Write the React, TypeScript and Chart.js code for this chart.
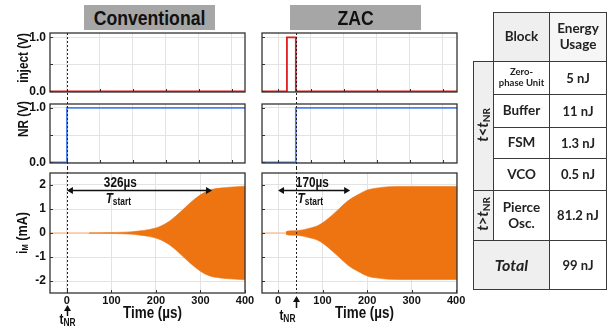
import React, { useEffect, useRef } from "react";
import { Chart, registerables } from "chart.js";

Chart.register(...registerables);

// ---------------- data ----------------
const convInjectT = [-38, 400];
const convInjectV = [0, 0];
const zacInjectT = [-36, 20, 20, 40, 40, 402];
const zacInjectV = [0, 0, 1, 1, 0, 0];

const convNrT = [-38, 0, 0, 400];
const convNrV = [0, 0, 1, 1];
const zacNrT = [-36, 40, 40, 402];
const zacNrV = [0, 0, 1, 1];

const convEnvT = [50, 100, 125, 141, 160, 186, 209, 231, 254, 276, 299, 321, 344, 366, 400];
const convEnvA = [0.01, 0.02, 0.03, 0.045, 0.08, 0.15, 0.27, 0.5, 0.86, 1.24, 1.58, 1.79, 1.87, 1.91, 1.95];
const convLeadT = [-38, 50];

const zacEnvT = [18, 22, 37, 55, 67, 90, 112, 135, 157, 180, 202, 225, 250, 300, 402];
const zacEnvA = [0.05, 0.08, 0.09, 0.13, 0.18, 0.31, 0.59, 0.97, 1.34, 1.6, 1.8, 1.88, 1.93, 1.94, 1.94];
const zacLeadT = [-36, 18];

const tNrConv = 0;
const tNrZac = 40;

const tStartConv = [0, 326];
const tStartConvLabel = "326µs";
const tStartConvLabelT = 120;
const tStartZac = [0, 162];
const tStartZacLabel = "170µs";
const tStartZacLabelT = 77;
const tStartLevel = 1.8;

const topGridT = [0, 74, 148, 222, 296, 370];
const timeTicks = [0, 100, 200, 300, 400];
const timeLabels = ["0", "100", "200", "300", "400"];
const voltTicks = [0, 0.5, 1];
const voltLabels = ["0.0", "", "1.0"];
const currentTicks = [-2, -1, 0, 1, 2];
const currentLabels = ["-2", "-1", "0", "1", "2"];

const blockNames = [["Zero-", "phase Unit"], ["Buffer"], ["FSM"], ["VCO"], ["Pierce", "Osc."]];
const blockEnergy = ["5 nJ", "11 nJ", "1.3 nJ", "0.5 nJ", "81.2 nJ"];
const totalEnergy = "99 nJ";

// ---------------- styles ----------------
const FONT = "'Liberation Sans', Arial, sans-serif";
const CONDENSE = 0.84;
const GRID = "#e3e3e3";
const FRAME = "#333333";
const ORANGE = "#ee7412";
const PEACH = "#f7c6a0";
const RED = "#e01c1c";
const BLUE = "#4d80ee";

type Piece = { t: string; s: number; dy?: number; italic?: boolean };

const pts = (t: number[], v: number[]) => t.map((x, i) => ({ x, y: v[i] }));

function drawRich(ctx: CanvasRenderingContext2D, pieces: Piece[], x: number, y: number, align: "center" | "right" | "left", rotate = false) {
  ctx.save();
  ctx.translate(x, y);
  if (rotate) ctx.rotate(-Math.PI / 2);
  ctx.scale(CONDENSE, 1);
  ctx.textBaseline = "middle";
  ctx.textAlign = "left";
  ctx.fillStyle = "#111";
  const fontOf = (p: Piece) => `${p.italic ? "italic " : ""}bold ${p.s}px ${FONT}`;
  let w = 0;
  for (const p of pieces) {
    ctx.font = fontOf(p);
    w += ctx.measureText(p.t).width;
  }
  let cx = align === "center" ? -w / 2 : align === "right" ? -w : 0;
  for (const p of pieces) {
    ctx.font = fontOf(p);
    ctx.fillText(p.t, cx, p.dy || 0);
    cx += ctx.measureText(p.t).width;
  }
  ctx.restore();
}

type Deco = {
  vline: number;
  vTop: "area" | "canvas";
  vBottom: "area" | "canvas";
  xMarks: number[];
  yMarks: number[];
  yTitle?: { pieces: Piece[]; x: number; y: number };
  xTitle?: { text: string; dx: number; y: number };
  tstart?: { from: number; to: number; level: number; label: string; labelT: number };
  tnr?: { t: number; top: number; bottom: number; labelY: number; align: "center" | "right"; dx: number };
};

function decoPlugin(d: Deco) {
  return {
    id: "deco",
    afterDatasetsDraw(chart: any) {
      const { ctx, chartArea: a, scales } = chart;
      const xs = scales.x;
      const ys = scales.y;
      ctx.save();
      ctx.strokeStyle = FRAME;
      ctx.lineWidth = 1;
      ctx.beginPath();
      for (const t of d.xMarks) {
        const px = Math.round(xs.getPixelForValue(t)) + 0.5;
        ctx.moveTo(px, a.bottom);
        ctx.lineTo(px, a.bottom - 3);
      }
      for (const v of d.yMarks) {
        const py = Math.round(ys.getPixelForValue(v)) + 0.5;
        ctx.moveTo(a.left, py);
        ctx.lineTo(a.left + 3, py);
      }
      ctx.stroke();
      ctx.lineWidth = 1.3;
      ctx.strokeRect(a.left, a.top, a.right - a.left, a.bottom - a.top);

      // vertical dashed t_NR line
      const vx = Math.round(xs.getPixelForValue(d.vline)) + 0.5;
      ctx.strokeStyle = "#222";
      ctx.lineWidth = 1;
      ctx.setLineDash([2, 2]);
      ctx.beginPath();
      ctx.moveTo(vx, d.vTop === "canvas" ? 0 : a.top);
      ctx.lineTo(vx, d.vBottom === "canvas" ? chart.height : a.bottom);
      ctx.stroke();
      ctx.setLineDash([]);

      if (d.yTitle) drawRich(ctx, d.yTitle.pieces, d.yTitle.x, d.yTitle.y, "center", true);
      if (d.xTitle) drawRich(ctx, [{ t: d.xTitle.text, s: 16 }], (a.left + a.right) / 2 + d.xTitle.dx, d.xTitle.y, "center");

      if (d.tstart) {
        const s = d.tstart;
        const x1 = xs.getPixelForValue(s.from);
        const x2 = xs.getPixelForValue(s.to);
        const y = Math.round(ys.getPixelForValue(s.level)) + 0.5;
        ctx.strokeStyle = "#111";
        ctx.fillStyle = "#111";
        ctx.lineWidth = 1.5;
        ctx.beginPath();
        ctx.moveTo(x1 + 4, y);
        ctx.lineTo(x2 - 4, y);
        ctx.stroke();
        ctx.beginPath();
        ctx.moveTo(x1, y);
        ctx.lineTo(x1 + 6, y - 3.5);
        ctx.lineTo(x1 + 6, y + 3.5);
        ctx.closePath();
        ctx.moveTo(x2, y);
        ctx.lineTo(x2 - 6, y - 3.5);
        ctx.lineTo(x2 - 6, y + 3.5);
        ctx.closePath();
        ctx.fill();
        const lx = xs.getPixelForValue(s.labelT);
        drawRich(ctx, [{ t: s.label, s: 14 }], lx, y - 7, "center");
        drawRich(ctx, [{ t: "T", s: 14, italic: true }, { t: "start", s: 10, dy: 3 }], lx - 2, y + 9, "center");
      }

      if (d.tnr) {
        const n = d.tnr;
        const ax = Math.round(xs.getPixelForValue(n.t)) + 0.5;
        ctx.strokeStyle = "#111";
        ctx.fillStyle = "#111";
        ctx.lineWidth = 1.5;
        ctx.beginPath();
        ctx.moveTo(ax, n.top + 4);
        ctx.lineTo(ax, n.bottom);
        ctx.stroke();
        ctx.beginPath();
        ctx.moveTo(ax, n.top);
        ctx.lineTo(ax - 3.5, n.top + 6);
        ctx.lineTo(ax + 3.5, n.top + 6);
        ctx.closePath();
        ctx.fill();
        drawRich(ctx, [{ t: "t", s: 14 }, { t: "NR", s: 10, dy: 3 }], ax + n.dx, n.labelY, n.align);
      }
      ctx.restore();
    },
  };
}

type PanelSpec = {
  datasets: any[];
  xMin: number;
  xMax: number;
  yMin: number;
  yMax: number;
  xTicks: number[];
  xLabels?: string[];
  yTicks: number[];
  yLabels?: string[];
  yWidth: number;
  xHeight: number;
  padding: { top: number; bottom: number; left: number; right: number };
  deco: Deco;
};

function buildConfig(p: PanelSpec): any {
  return {
    type: "line",
    data: { datasets: p.datasets },
    options: {
      responsive: false,
      maintainAspectRatio: false,
      animation: false,
      layout: { padding: p.padding },
      plugins: { legend: { display: false }, tooltip: { enabled: false } },
      elements: { point: { radius: 0 }, line: { borderJoinStyle: "miter" } },
      scales: {
        x: {
          type: "linear",
          min: p.xMin,
          max: p.xMax,
          afterBuildTicks: (s: any) => {
            s.ticks = p.xTicks.map((v) => ({ value: v }));
          },
          afterFit: (s: any) => {
            s.height = p.xHeight;
            s.paddingLeft = 0;
            s.paddingRight = 0;
          },
          grid: { color: GRID, lineWidth: 1, drawTicks: false },
          border: { display: false },
          ticks: {
            display: !!p.xLabels,
            autoSkip: false,
            maxRotation: 0,
            padding: 1,
            color: "#111",
            font: { family: FONT, size: 11, weight: "bold" },
            callback: (_v: any, i: number) => (p.xLabels ? p.xLabels[i] : ""),
          },
        },
        y: {
          type: "linear",
          min: p.yMin,
          max: p.yMax,
          afterBuildTicks: (s: any) => {
            s.ticks = p.yTicks.map((v) => ({ value: v }));
          },
          afterFit: (s: any) => {
            s.width = p.yWidth;
            s.paddingTop = 0;
            s.paddingBottom = 0;
          },
          grid: { color: GRID, lineWidth: 1, drawTicks: false },
          border: { display: false },
          ticks: {
            display: !!p.yLabels,
            autoSkip: false,
            padding: 4,
            color: "#111",
            font: { family: FONT, size: 12, weight: "bold" },
            callback: (_v: any, i: number) => (p.yLabels ? p.yLabels[i] : ""),
          },
        },
      },
    },
    plugins: [decoPlugin(p.deco)],
  };
}

function ChartBox({ spec, left, top, width, height }: { spec: PanelSpec; left: number; top: number; width: number; height: number }) {
  const ref = useRef<HTMLCanvasElement>(null);
  useEffect(() => {
    const chart = new Chart(ref.current as HTMLCanvasElement, buildConfig(spec));
    return () => chart.destroy();
  }, []);
  return (
    <canvas
      ref={ref}
      width={width}
      height={height}
      style={{ position: "absolute", left, top, width, height }}
    />
  );
}

const lineDs = (t: number[], v: number[], color: string) => ({
  data: pts(t, v),
  borderColor: color,
  borderWidth: 1.8,
  pointRadius: 0,
  tension: 0,
  fill: false,
});

const envelope = (t: number[], a: number[], leadT: number[]) => [
  {
    data: pts(t, a),
    borderColor: ORANGE,
    backgroundColor: ORANGE,
    borderWidth: 0.6,
    pointRadius: 0,
    cubicInterpolationMode: "monotone",
    fill: "+1",
  },
  {
    data: pts(t, a.map((v) => -v)),
    borderColor: ORANGE,
    borderWidth: 0.6,
    pointRadius: 0,
    cubicInterpolationMode: "monotone",
    fill: false,
  },
  {
    data: pts(leadT, leadT.map(() => 0)),
    borderColor: PEACH,
    borderWidth: 1.5,
    pointRadius: 0,
    fill: false,
  },
];

const LEFT = { left: 0, width: 260, yWidth: 50, right: 15, xMin: -38, xMax: 400 };
const RIGHT = { left: 250, width: 222, yWidth: 12, right: 15, xMin: -36, xMax: 402 };

const voltTitle: Piece[] = [{ t: "inject (V)", s: 14 }];
const nrTitle: Piece[] = [{ t: "NR (V)", s: 14 }];
const imTitle: Piece[] = [{ t: "i", s: 15 }, { t: "M", s: 9, dy: 3 }, { t: " (mA)", s: 15 }];

function specs(col: typeof LEFT, isConv: boolean) {
  const tnr = isConv ? tNrConv : tNrZac;
  const a: PanelSpec = {
    datasets: [isConv ? lineDs(convInjectT, convInjectV, RED) : lineDs(zacInjectT, zacInjectV, RED)],
    xMin: col.xMin,
    xMax: col.xMax,
    yMin: -0.01,
    yMax: 1.08,
    xTicks: topGridT,
    yTicks: voltTicks,
    yLabels: isConv ? voltLabels : undefined,
    yWidth: col.yWidth,
    xHeight: 0,
    padding: { top: 33, bottom: 6, left: 0, right: col.right },
    deco: {
      vline: tnr,
      vTop: "area",
      vBottom: "canvas",
      xMarks: topGridT,
      yMarks: voltTicks,
      yTitle: isConv ? { pieces: voltTitle, x: 24, y: 58 } : undefined,
    },
  };
  const b: PanelSpec = {
    datasets: [isConv ? lineDs(convNrT, convNrV, BLUE) : lineDs(zacNrT, zacNrV, BLUE)],
    xMin: col.xMin,
    xMax: col.xMax,
    yMin: -0.01,
    yMax: 1.07,
    xTicks: topGridT,
    yTicks: voltTicks,
    yLabels: isConv ? voltLabels : undefined,
    yWidth: col.yWidth,
    xHeight: 0,
    padding: { top: 6, bottom: 5, left: 0, right: col.right },
    deco: {
      vline: tnr,
      vTop: "canvas",
      vBottom: "canvas",
      xMarks: topGridT,
      yMarks: voltTicks,
      yTitle: isConv ? { pieces: nrTitle, x: 24, y: 21 } : undefined,
    },
  };
  const c: PanelSpec = {
    datasets: isConv ? envelope(convEnvT, convEnvA, convLeadT) : envelope(zacEnvT, zacEnvA, zacLeadT),
    xMin: col.xMin,
    xMax: col.xMax,
    yMin: -2.5,
    yMax: 2.5,
    xTicks: timeTicks,
    xLabels: timeLabels,
    yTicks: currentTicks,
    yLabels: isConv ? currentLabels : undefined,
    yWidth: col.yWidth,
    xHeight: 34,
    padding: { top: 5, bottom: 0, left: 0, right: col.right },
    deco: {
      vline: tnr,
      vTop: "canvas",
      vBottom: "area",
      xMarks: timeTicks,
      yMarks: currentTicks,
      yTitle: isConv ? { pieces: imTitle, x: 23, y: 65 } : undefined,
      xTitle: { text: "Time (µs)", dx: 5, y: 146 },
      tstart: isConv
        ? { from: tStartConv[0], to: tStartConv[1], level: tStartLevel, label: tStartConvLabel, labelT: tStartConvLabelT }
        : { from: tStartZac[0], to: tStartZac[1], level: tStartLevel, label: tStartZacLabel, labelT: tStartZacLabelT },
      tnr: isConv
        ? { t: tnr, top: 137, bottom: 148, labelY: 152, align: "center", dx: 0 }
        : { t: tnr, top: 128, bottom: 140, labelY: 148, align: "right", dx: -1 },
    },
  };
  return [a, b, c];
}

const cell: React.CSSProperties = {
  border: "1.5px solid #3a3a3a",
  textAlign: "center",
  verticalAlign: "middle",
  padding: 0,
  lineHeight: 1.15,
};
const gray = "#efefef";

function EnergyTable() {
  const rowH = [33, 33, 31, 32];
  return (
    <table
      style={{
        position: "absolute",
        left: 473,
        top: 12,
        width: 133,
        borderCollapse: "collapse",
        tableLayout: "fixed",
        fontFamily: "Lato, 'Open Sans', sans-serif",
        fontWeight: 700,
        color: "#222",
        fontSize: 13,
      }}
    >
      <colgroup>
        <col style={{ width: 20 }} />
        <col style={{ width: 56 }} />
        <col style={{ width: 57 }} />
      </colgroup>
      <tbody>
        <tr style={{ height: 49 }}>
          <td style={{ border: "none", padding: 0 }} />
          <td style={{ ...cell, background: gray, fontSize: 13.5 }}>Block</td>
          <td style={{ ...cell, background: "#f6f6f6", fontSize: 13.5 }}>
            Energy
            <br />
            Usage
          </td>
        </tr>
        {blockNames.slice(0, 4).map((name, i) => (
          <tr key={i} style={{ height: rowH[i] }}>
            {i === 0 && (
              <td rowSpan={4} style={{ ...cell, background: gray }}>
                <span
                  style={{
                    display: "inline-block",
                    writingMode: "vertical-rl",
                    transform: "rotate(180deg)",
                    fontSize: 15,
                    whiteSpace: "nowrap",
                  }}
                >
                  <i>t</i>&lt;<i>t</i>
                  <sub style={{ fontSize: 10 }}>NR</sub>
                </span>
              </td>
            )}
            <td style={{ ...cell, fontSize: name.length > 1 ? 9.5 : 13.5 }}>
              {name.map((n, k) => (
                <div key={k}>{n}</div>
              ))}
            </td>
            <td style={cell}>{blockEnergy[i]}</td>
          </tr>
        ))}
        <tr style={{ height: 50 }}>
          <td style={{ ...cell, background: gray }}>
            <span
              style={{
                display: "inline-block",
                writingMode: "vertical-rl",
                transform: "rotate(180deg)",
                fontSize: 15,
                whiteSpace: "nowrap",
              }}
            >
              <i>t</i>&gt;<i>t</i>
              <sub style={{ fontSize: 10 }}>NR</sub>
            </span>
          </td>
          <td style={{ ...cell, fontSize: 13.5 }}>
            {blockNames[4].map((n, k) => (
              <div key={k}>{n}</div>
            ))}
          </td>
          <td style={cell}>{blockEnergy[4]}</td>
        </tr>
        <tr style={{ height: 49 }}>
          <td colSpan={2} style={{ ...cell, background: gray, fontSize: 16, fontStyle: "italic" }}>
            Total
          </td>
          <td style={cell}>{totalEnergy}</td>
        </tr>
      </tbody>
    </table>
  );
}

function TitleBox({ text, left, width }: { text: string; left: number; width: number }) {
  return (
    <div
      style={{
        position: "absolute",
        left,
        top: 5,
        width,
        height: 25,
        background: "#a6a6a6",
        display: "flex",
        alignItems: "center",
        justifyContent: "center",
        fontFamily: FONT,
        fontWeight: 700,
        fontSize: 21,
        color: "#111",
      }}
    >
      <span style={{ display: "inline-block", transform: `scaleX(${CONDENSE})`, whiteSpace: "nowrap" }}>{text}</span>
    </div>
  );
}

export default function App() {
  const conv = specs(LEFT, true);
  const zac = specs(RIGHT, false);
  const rows = [
    { top: 0, height: 98 },
    { top: 98, height: 70 },
    { top: 168, height: 159 },
  ];
  return (
    <div
      style={{
        position: "fixed",
        left: 0,
        top: 0,
        width: 611,
        height: 327,
        background: "#fff",
        overflow: "hidden",
      }}
    >
      {rows.map((r, i) => (
        <ChartBox key={"c" + i} spec={conv[i]} left={LEFT.left} top={r.top} width={LEFT.width} height={r.height} />
      ))}
      {rows.map((r, i) => (
        <ChartBox key={"z" + i} spec={zac[i]} left={RIGHT.left} top={r.top} width={RIGHT.width} height={r.height} />
      ))}
      <TitleBox text="Conventional" left={84} width={131} />
      <TitleBox text="ZAC" left={290} width={131} />
      <EnergyTable />
    </div>
  );
}
